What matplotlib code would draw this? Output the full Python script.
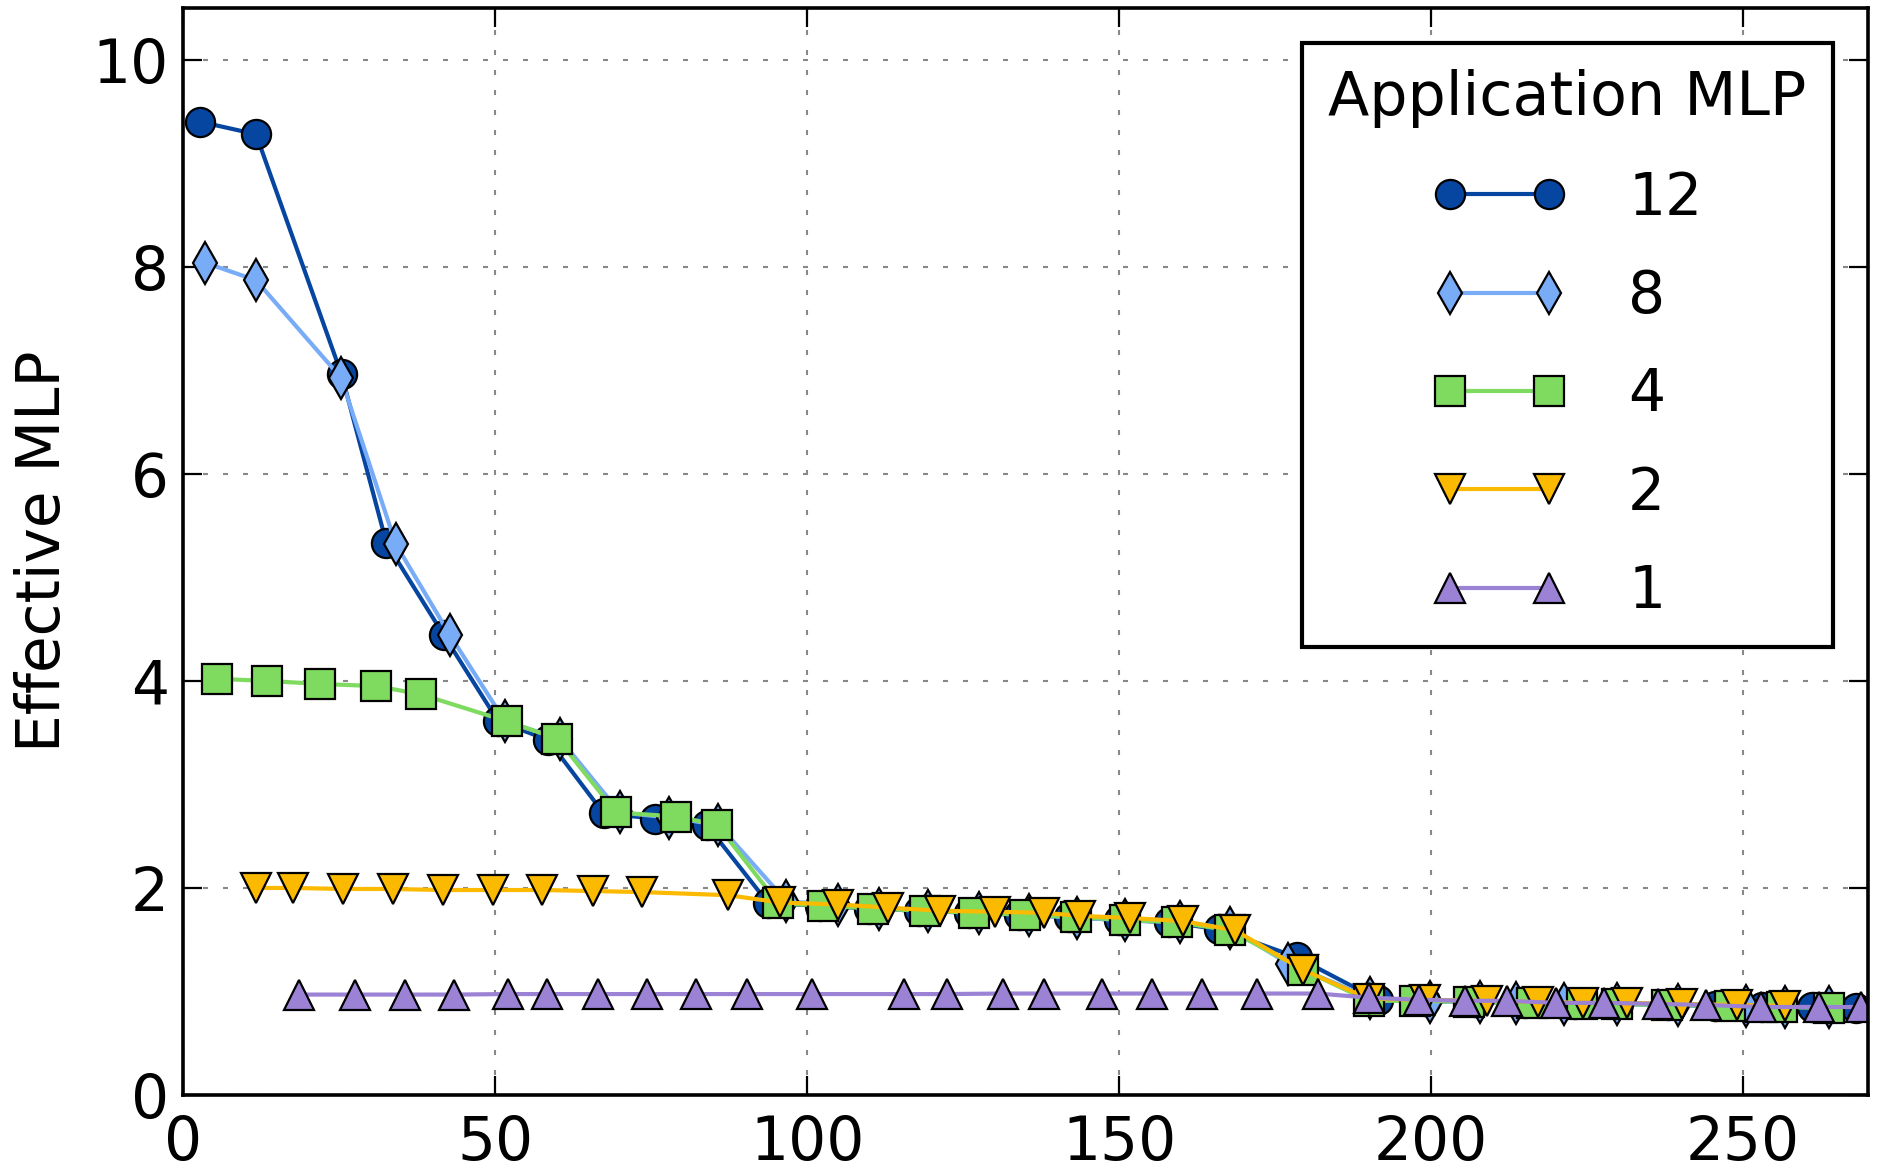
import matplotlib
matplotlib.use("Agg")
import matplotlib.pyplot as plt

# ---- data -------------------------------------------------------------
x12 = [2.8, 11.7, 25.4, 32.6, 41.8, 50.5, 58.5, 67.4, 75.6, 83.9, 93.8, 102.0,
       110.0, 118.0, 126.0, 134.0, 142.0, 150.0, 158.0, 166.0, 178.5, 191.5,
       199.0, 207.0, 215.0, 223.0, 230.0, 238.0, 245.5, 253.0, 261.0, 268.0]
y12 = [9.40, 9.28, 6.96, 5.33, 4.44, 3.61, 3.43, 2.72, 2.67, 2.61, 1.85, 1.83,
       1.80, 1.78, 1.76, 1.74, 1.72, 1.69, 1.67, 1.60, 1.33, 0.92,
       0.91, 0.90, 0.89, 0.88, 0.88, 0.87, 0.86, 0.85, 0.85, 0.84]

x8 = [3.5, 11.7, 25.3, 34.1, 42.8, 51.6, 60.4, 70.0, 77.9, 85.8, 96.7, 104.9,
      111.5, 119.4, 127.5, 135.6, 143.3, 151.0, 159.8, 167.8, 177.1, 190.2,
      199.8, 207.8, 213.6, 221.3, 229.8, 239.6, 250.4, 256.7, 263.7]
y8 = [8.04, 7.87, 6.93, 5.32, 4.44, 3.61, 3.44, 2.73, 2.68, 2.61, 1.87, 1.84,
      1.80, 1.78, 1.76, 1.74, 1.71, 1.69, 1.67, 1.61, 1.27, 0.94,
      0.90, 0.90, 0.89, 0.88, 0.88, 0.87, 0.86, 0.85, 0.85]

x4 = [5.4, 13.4, 22.0, 31.0, 38.1, 51.9, 60.0, 69.4, 79.0, 85.6, 95.4, 102.6,
      110.6, 118.9, 126.8, 134.9, 143.1, 151.0, 159.2, 167.8, 179.5, 190.0,
      197.4, 206.0, 216.1, 224.2, 229.8, 237.8, 247.9, 256.2, 263.7]
y4 = [4.02, 4.00, 3.97, 3.95, 3.87, 3.61, 3.44, 2.73, 2.69, 2.61, 1.85, 1.83,
      1.80, 1.78, 1.76, 1.74, 1.72, 1.69, 1.67, 1.59, 1.21, 0.91,
      0.91, 0.90, 0.89, 0.88, 0.88, 0.87, 0.86, 0.85, 0.84]

x2 = [11.7, 17.7, 25.7, 33.7, 41.7, 49.6, 57.6, 65.7, 73.6, 87.3, 95.7, 105.0,
      113.0, 121.3, 130.1, 137.9, 143.8, 151.8, 160.2, 168.6, 179.4, 190.0,
      199.0, 208.9, 217.2, 224.4, 231.4, 240.2, 249.0, 256.7]
y2 = [2.00, 2.00, 1.99, 1.99, 1.98, 1.98, 1.98, 1.97, 1.96, 1.93, 1.86, 1.84,
      1.81, 1.78, 1.77, 1.76, 1.73, 1.71, 1.68, 1.59, 1.21, 0.93,
      0.92, 0.91, 0.90, 0.89, 0.89, 0.88, 0.87, 0.86]

x1 = [18.6, 27.5, 35.5, 43.5, 52.0, 58.3, 66.5, 74.3, 82.2, 90.3, 100.8, 115.6,
      122.4, 131.4, 138.0, 147.2, 155.2, 163.3, 172.1, 181.9, 190.1, 198.1,
      205.4, 212.2, 220.0, 227.7, 236.3, 244.1, 252.8, 262.2, 268.8]
y1 = [0.97, 0.97, 0.97, 0.97, 0.975, 0.975, 0.975, 0.975, 0.975, 0.975, 0.975, 0.975,
      0.975, 0.98, 0.98, 0.98, 0.98, 0.98, 0.98, 0.98, 0.94, 0.92,
      0.91, 0.91, 0.89, 0.89, 0.88, 0.87, 0.85, 0.85, 0.85]

labels = ["12", "8", "4", "2", "1"]
legend_title = "Application MLP"
y_label = "Effective MLP"
xticks = [0, 50, 100, 150, 200, 250]
yticks = [0, 2, 4, 6, 8, 10]

# ---- style ------------------------------------------------------------
FS = 43
LEG_FS = 42
plt.rcParams["font.family"] = ["DejaVu Sans"]
plt.rcParams["font.size"] = FS

colors = ["#0645a0", "#78acf7", "#7fdb5f", "#fbba00", "#9b82d4"]
markers = ["o", "d", "s", "v", "^"]
series = [(x12, y12), (x8, y8), (x4, y4), (x2, y2), (x1, y1)]

fig = plt.figure(figsize=(18.77, 11.70), dpi=100)
ax = fig.add_axes([0.0975, 0.0641, 0.8977, 0.9291])

for (xs, ys), c, m, lab in zip(series, colors, markers, labels):
    ax.plot(xs, ys, color=c, lw=3, marker=m, markersize=21,
            markerfacecolor=c, markeredgecolor="black", markeredgewidth=1.6,
            label=lab)

ax.set_xlim(0, 270)
ax.set_ylim(0, 10.5)
ax.set_xticks(xticks)
ax.set_yticks(yticks)

ax.set_axisbelow(True)
ax.grid(True, color="#888888", linestyle=(0, (2.4, 7.2)), linewidth=1.5)

for sp in ax.spines.values():
    sp.set_linewidth(2.6)
    sp.set_color("black")

ax.tick_params(axis="both", which="major", direction="in", length=14,
               width=1.6, top=True, right=True, labelsize=FS)
ax.tick_params(axis="x", pad=14)
ax.tick_params(axis="y", pad=10)

ax.set_ylabel(y_label, fontsize=FS, labelpad=14)

leg = ax.legend(title=legend_title, loc="upper right", fontsize=LEG_FS,
                title_fontsize=43.5, numpoints=2, handlelength=2.3,
                handletextpad=1.05, labelspacing=0.71, borderpad=0.45,
                borderaxespad=0.6, fancybox=False, framealpha=1)
leg.get_frame().set_edgecolor("black")
leg.get_frame().set_linewidth(3)

fig.savefig("out.png", dpi=100, facecolor="white")
